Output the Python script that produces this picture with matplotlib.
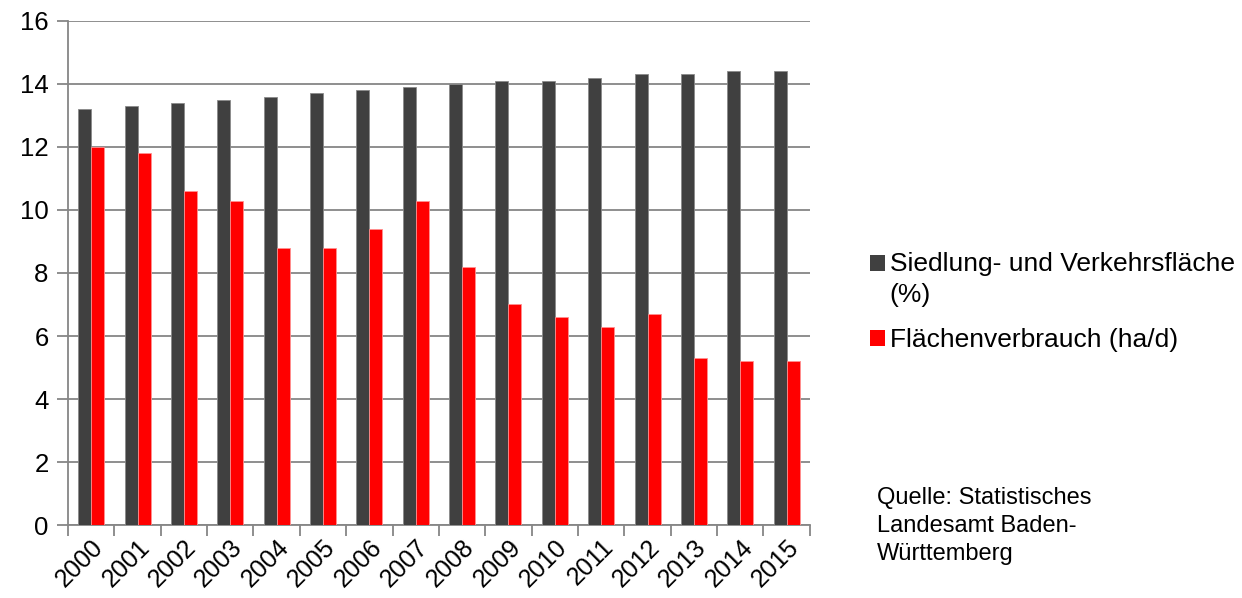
import matplotlib
matplotlib.use("Agg")
import matplotlib.pyplot as plt
import numpy as np
from matplotlib.patches import Patch, Rectangle
from matplotlib.legend_handler import HandlerPatch

plt.rcParams['font.family'] = ['Liberation Sans', 'DejaVu Sans']

years = ["2000", "2001", "2002", "2003", "2004", "2005", "2006", "2007",
         "2008", "2009", "2010", "2011", "2012", "2013", "2014", "2015"]
siedlung = [13.2, 13.3, 13.4, 13.5, 13.6, 13.7, 13.8, 13.9,
            14.0, 14.1, 14.1, 14.2, 14.3, 14.3, 14.4, 14.4]
verbrauch = [12.0, 11.8, 10.6, 10.3, 8.8, 8.8, 9.4, 10.3,
             8.2, 7.0, 6.6, 6.3, 6.7, 5.3, 5.2, 5.2]
label_s = "Siedlung- und Verkehrsfläche\n(%)"
label_v = "Flächenverbrauch (ha/d)"
source = "Quelle: Statistisches\nLandesamt Baden-\nWürttemberg"

dark = "#404040"
red = "#FF0000"
grid = "#868686"

fig = plt.figure(figsize=(12.42, 5.98), dpi=100)
ax = fig.add_axes([0.0548, 0.122, 0.5972, 0.843])

x = np.arange(len(years))
w = 0.28
ax.bar(x - w / 2, siedlung, w, color=dark, edgecolor="#8a8a8a", linewidth=0.6, zorder=3)
ax.bar(x + w / 2, verbrauch, w, color=red, edgecolor="#ff9090", linewidth=0.6, zorder=3)

ax.set_xlim(-0.5, len(years) - 0.5)
ax.set_ylim(0, 16)
ax.set_yticks(np.arange(0, 17, 2))
ax.yaxis.grid(True, color=grid, linewidth=1.3, zorder=0)
ax.set_axisbelow(True)

for s in ["top", "right"]:
    ax.spines[s].set_visible(False)
for s in ["left", "bottom"]:
    ax.spines[s].set_color(grid)
    ax.spines[s].set_linewidth(1.3)

ax.tick_params(axis="y", length=8, width=1.3, color=grid, labelsize=18.5, pad=6)
ax.set_xticks(x)
ax.set_xticklabels(years, rotation=45, ha="right", rotation_mode="anchor", fontsize=18)
ax.tick_params(axis="x", which="major", length=0, pad=7)
ax.set_xticks(np.arange(-0.5, len(years), 1.0), minor=True)
ax.tick_params(axis="x", which="minor", length=8, width=1.3, color=grid)


def shifted_square(legend, orig_handle, xdescent, ydescent, width, height, fontsize):
    return Rectangle((-xdescent, -ydescent + 12), width, height)


handles = [Patch(facecolor=dark, edgecolor="none", label=label_s),
           Patch(facecolor=red, edgecolor="none", label=label_v)]
leg = fig.legend(handles=handles, loc="upper left", bbox_to_anchor=(0.692, 0.597),
                 frameon=False, fontsize=19, handlelength=0.55, handleheight=0.55,
                 handletextpad=0.2, labelspacing=0.8, borderaxespad=0,
                 handler_map={handles[0]: HandlerPatch(patch_func=shifted_square)})
for t in leg.get_texts():
    t.set_linespacing(1.4)

fig.text(0.706, 0.185, source, fontsize=17, ha="left", va="top", linespacing=1.35)

fig.savefig("out.png", dpi=100)
